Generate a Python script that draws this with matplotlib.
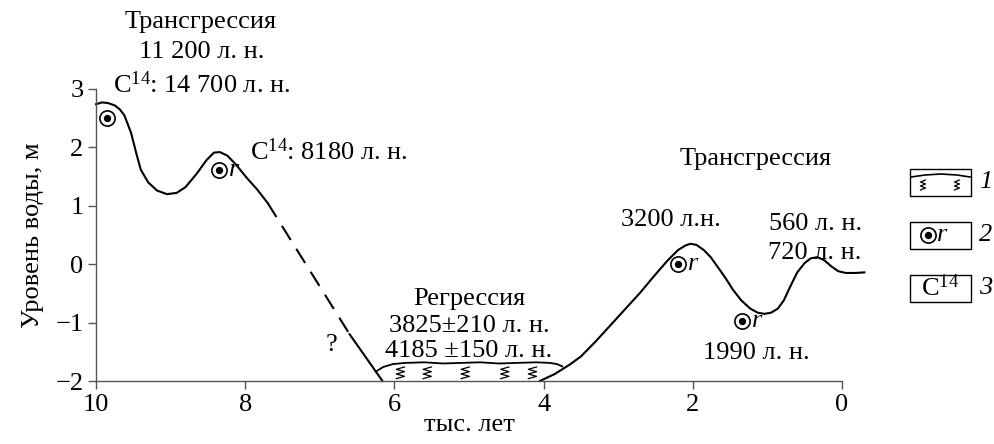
import numpy as np
import matplotlib
matplotlib.use("Agg")
import matplotlib.pyplot as plt
from matplotlib.patches import Rectangle

plt.rcParams['font.family'] = ['Liberation Serif', 'DejaVu Serif']
plt.rcParams['mathtext.fontset'] = 'custom'
plt.rcParams['mathtext.rm'] = 'Liberation Serif'
plt.rcParams['mathtext.it'] = 'Liberation Serif:italic'

# curve (x: thousand years ago, y: water level, m)
early_x = [10.0, 9.92, 9.84, 9.75, 9.68, 9.62, 9.53, 9.46, 9.40, 9.30, 9.18, 9.05,
           8.92, 8.80, 8.65, 8.52, 8.42, 8.34, 8.24, 8.12, 7.98, 7.84, 7.70]
early_y = [2.74, 2.77, 2.76, 2.72, 2.65, 2.55, 2.25, 1.90, 1.62, 1.40, 1.26, 1.20,
           1.22, 1.32, 1.55, 1.78, 1.91, 1.92, 1.86, 1.70, 1.48, 1.28, 1.05]
gap_x = [7.70, 6.60]
gap_y = [1.05, -1.20]
fall_x = [6.60, 6.16]
fall_y = [-1.20, -2.00]
late_x = [4.05, 3.85, 3.65, 3.50, 3.30, 3.10, 2.90, 2.70, 2.57, 2.45, 2.34, 2.20,
          2.10, 2.03, 1.95, 1.85, 1.76, 1.67, 1.56, 1.46, 1.35, 1.23, 1.13, 1.04,
          0.95, 0.86, 0.78, 0.70, 0.60, 0.50, 0.42, 0.33, 0.24, 0.14, 0.05, -0.05,
          -0.18, -0.30]
late_y = [-2.00, -1.88, -1.72, -1.58, -1.32, -1.04, -0.76, -0.48, -0.28, -0.10, 0.06, 0.24,
          0.32, 0.35, 0.33, 0.24, 0.12, -0.04, -0.24, -0.44, -0.62, -0.76, -0.83, -0.85,
          -0.83, -0.76, -0.62, -0.40, -0.14, 0.02, 0.10, 0.12, 0.07, -0.04, -0.12, -0.15,
          -0.15, -0.14]
# regression deposit (peat) outline and its symbols
bump_x = [6.25, 6.15, 6.02, 5.85, 5.60, 5.35, 5.10, 4.85, 4.60, 4.35, 4.10, 3.92, 3.82, 3.75]
bump_y = [-1.84, -1.76, -1.71, -1.69, -1.68, -1.70, -1.69, -1.68, -1.70, -1.69, -1.68, -1.69, -1.71, -1.75]
spring_x = [5.92, 5.56, 5.05, 4.52, 4.15]
spring_y = -1.86
# sampling points (⊙)
pts_x = [9.85, 8.35, 2.20, 1.34]
pts_y = [2.50, 1.61, 0.00, -0.98]
pts_r = [False, True, True, True]

xticks = [10, 8, 6, 4, 2, 0]
yticks = [-2, -1, 0, 1, 2, 3]

FS = 19
W, H = 995, 444
fig = plt.figure(figsize=(W / 100, H / 100), dpi=100)
ax = fig.add_axes([96 / W, 1 - 381 / H, (842 - 96) / W, (381 - 89) / H])
ax.set_xlim(10, 0)
ax.set_ylim(-2, 3)
for s in ['top', 'right']:
    ax.spines[s].set_visible(False)
for s in ['left', 'bottom']:
    ax.spines[s].set_color('#555555')
    ax.spines[s].set_linewidth(1.0)
ax.set_xticks(xticks)
ax.set_yticks(yticks)
ax.tick_params(direction='out', length=6, width=1.0, color='#555555', labelsize=FS, pad=3)
ax.set_xlabel('тыс. лет', fontsize=FS, labelpad=-1)
ax.set_ylabel('Уровень воды, м', fontsize=FS, labelpad=8)

lw = 1.5
ax.plot(early_x, early_y, color='black', lw=lw, clip_on=False)
ax.plot(gap_x, gap_y, color='black', lw=lw, ls=(0, (8, 5)), clip_on=False)
ax.plot(fall_x, fall_y, color='black', lw=lw, clip_on=False)
ax.plot(late_x, late_y, color='black', lw=lw, clip_on=False)
ax.plot(bump_x, bump_y, color='black', lw=1.3, clip_on=False)


def spring(a, x, y, w, h, tr, n=5):
    xs = [x - w / 2 if i % 2 == 0 else x + w / 2 for i in range(n + 1)]
    ys = list(np.linspace(y + h / 2, y - h / 2, n + 1))
    a.plot(xs, ys, color='black', lw=0.9, transform=tr, clip_on=False)


for sx in spring_x:
    spring(ax, sx, spring_y, 0.11, 0.2, ax.transData)

ax.scatter(pts_x, pts_y, s=120, facecolors='white', edgecolors='black', linewidths=1.2, zorder=3, clip_on=False)
ax.scatter(pts_x, pts_y, s=18, color='black', zorder=4, clip_on=False)
for x, y, r in zip(pts_x, pts_y, pts_r):
    if r:
        ax.annotate('r', (x, y), xytext=(7, 0), textcoords='offset points', va='center',
                    ha='left', fontsize=FS, style='italic', annotation_clip=False)

kw = dict(fontsize=FS, ha='center', va='center', clip_on=False)
ax.text(8.6, 4.15, 'Трансгрессия', **kw)
ax.text(8.58, 3.63, '11 200 л. н.', **kw)
ax.text(8.58, 3.07, 'C$^{14}$: 14 700 л. н.', **kw)
ax.text(7.93, 1.92, 'C$^{14}$: 8180 л. н.', fontsize=FS, ha='left', va='center', clip_on=False)
ax.text(1.16, 1.80, 'Трансгрессия', **kw)
ax.text(2.30, 0.76, '3200 л.н.', **kw)
ax.text(0.36, 0.68, '560 л. н.', **kw)
ax.text(0.36, 0.20, '720 л. н.', **kw)
ax.text(1.15, -1.52, '1990 л. н.', **kw)
ax.text(5.0, -0.60, 'Регрессия', **kw)
ax.text(5.0, -1.05, '3825±210 л. н.', **kw)
ax.text(5.0, -1.48, '4185 ±150 л. н.', **kw)
ax.text(6.84, -1.38, '?', **kw)

# legend boxes on the right, in pixel coordinates
ov = fig.add_axes([0, 0, 1, 1])
ov.set_xlim(0, W)
ov.set_ylim(H, 0)
ov.axis('off')
bx0, bx1, bh = 910, 971, 27
centers = [182, 235, 288]
for i, cy in enumerate(centers):
    ov.add_patch(Rectangle((bx0, cy - bh / 2), bx1 - bx0, bh, fill=False, ec='black', lw=1.0))
    ov.text(979, cy, str(i + 1), fontsize=FS, style='italic', ha='left', va='center')
cy = centers[0]
lx = np.array([bx0 + 1, bx0 + 15, bx0 + 31, bx0 + 47, bx1 - 1])
ly = np.array([cy - 5, cy - 7, cy - 8, cy - 7, cy - 5])
ov.plot(lx, ly, color='black', lw=1.2)
for sx in [923, 957]:
    spring(ov, sx, cy + 3, 5, 10, ov.transData)
cy = centers[1]
ov.scatter([928], [cy], s=120, facecolors='white', edgecolors='black', linewidths=1.2, zorder=3)
ov.scatter([928], [cy], s=18, color='black', zorder=4)
ov.text(937, cy, 'r', fontsize=FS, style='italic', ha='left', va='center')
ov.text((bx0 + bx1) / 2, centers[2], 'C$^{14}$', fontsize=FS, ha='center', va='center')

fig.savefig('out.png', dpi=100)
